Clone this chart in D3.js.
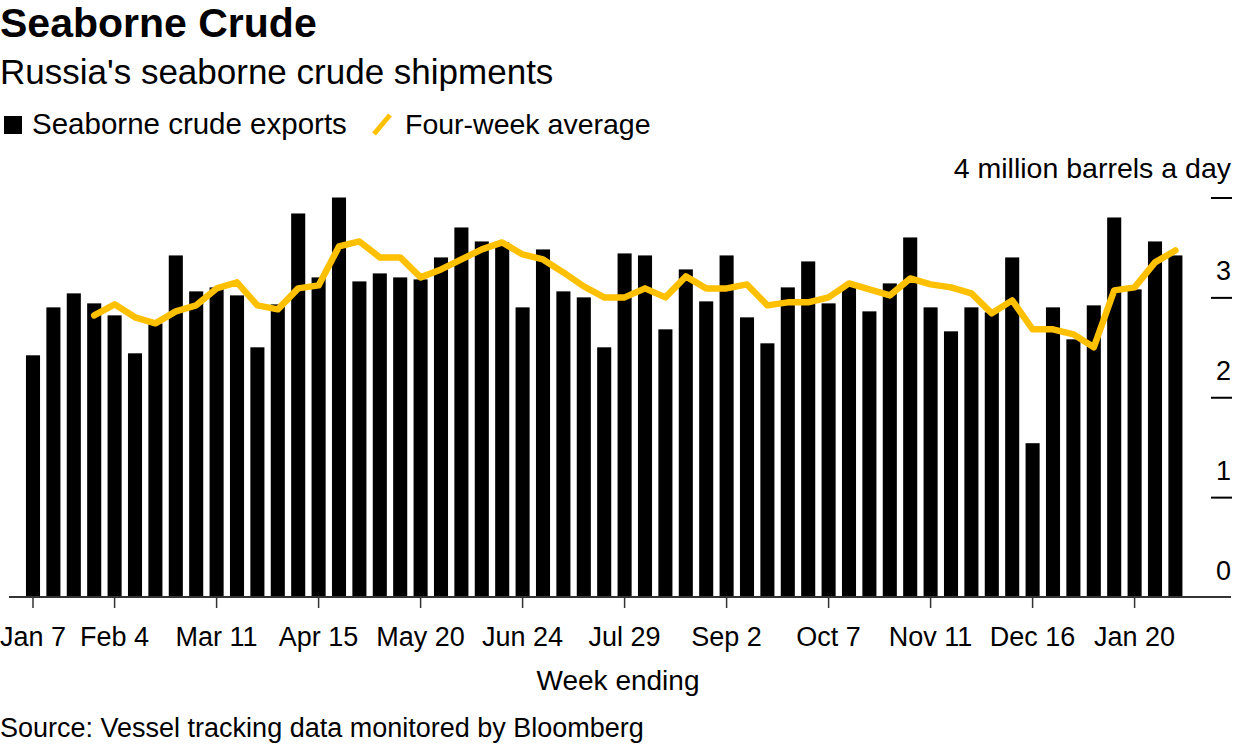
<!DOCTYPE html>
<html>
<head>
<meta charset="utf-8">
<script src="https://cdn.jsdelivr.net/npm/d3@7"></script>
<style>
  body { margin: 0; background: #fff; }
  text { font-family: "Liberation Sans", Arial, sans-serif; fill: #000; }
</style>
</head>
<body>
<div id="chart"></div>
<script>
// weekly Russian seaborne crude exports, million barrels a day
var weeks = d3.range(57).map(function(i){ return new Date(Date.UTC(2018, 0, 7 + 7 * i)); });

var exportsMbd = [2.42, 2.90, 3.04, 2.94, 2.82, 2.44, 2.74, 3.42, 3.06, 3.10,
                  3.02, 2.50, 2.93, 3.84, 3.20, 4.00, 3.16, 3.24, 3.20, 3.18,
                  3.40, 3.70, 3.56, 3.55, 2.90, 3.48, 3.06, 3.00, 2.50, 3.44,
                  3.42, 2.68, 3.28, 2.96, 3.42, 2.80, 2.54, 3.10, 3.36, 2.94,
                  3.12, 2.86, 3.14, 3.60, 2.90, 2.66, 2.90, 2.85, 3.40, 1.54,
                  2.90, 2.58, 2.92, 3.80, 3.08, 3.56, 3.42];

// four-week average, starts on the 4th week
var avgMbd = [null, null, null, 2.82, 2.93, 2.80, 2.74, 2.86, 2.92, 3.09,
              3.15, 2.92, 2.88, 3.09, 3.12, 3.51, 3.56, 3.40, 3.40, 3.20,
              3.28, 3.38, 3.48, 3.55, 3.43, 3.38, 3.25, 3.11, 3.00, 3.00,
              3.09, 3.00, 3.21, 3.09, 3.09, 3.13, 2.92, 2.95, 2.95, 3.00,
              3.14, 3.08, 3.02, 3.19, 3.13, 3.10, 3.04, 2.84, 2.97, 2.68,
              2.68, 2.63, 2.50, 3.07, 3.10, 3.35, 3.47];

var xTickLabels = ["Jan 7", "Feb 4", "Mar 11", "Apr 15", "May 20", "Jun 24",
                   "Jul 29", "Sep 2", "Oct 7", "Nov 11", "Dec 16", "Jan 20"];
var xTickIdx = [0, 4, 9, 14, 19, 24, 29, 34, 39, 44, 49, 54];
var yTicks = [0, 1, 2, 3, 4];

var W = 1257, H = 755;
var yellow = "#ffc000";

var svg = d3.select("#chart").append("svg")
    .attr("width", W)
    .attr("height", H);

// titles
svg.append("text").attr("x", 0).attr("y", 37)
    .style("font-size", "41px").style("font-weight", "bold")
    .text("Seaborne Crude");
svg.append("text").attr("x", 0).attr("y", 84)
    .style("font-size", "35px")
    .text("Russia's seaborne crude shipments");

// legend
var legend = svg.append("g").attr("transform", "translate(0,134)");
legend.append("rect").attr("x", 4).attr("y", -18).attr("width", 18).attr("height", 18).attr("fill", "#000");
legend.append("text").attr("x", 32).attr("y", 0).style("font-size", "29.5px").text("Seaborne crude exports");
legend.append("line").attr("x1", 374).attr("y1", 0).attr("x2", 390).attr("y2", -19)
    .attr("stroke", yellow).attr("stroke-width", 5);
legend.append("text").attr("x", 405).attr("y", 0).style("font-size", "28.5px").text("Four-week average");

// scales
var x = d3.scaleBand()
    .domain(weeks)
    .range([22.8, 22.8 + 57 * 20.4])
    .paddingInner(0.31)
    .paddingOuter(0.155);

var y = d3.scaleLinear().domain([0, 4]).range([597, 197.5]);

var cx = function(i){ return x(weeks[i]) + x.bandwidth() / 2; };

// bars
svg.append("g").selectAll("rect")
    .data(exportsMbd)
    .enter().append("rect")
    .attr("x", function(d, i){ return x(weeks[i]); })
    .attr("width", x.bandwidth())
    .attr("y", function(d){ return y(d); })
    .attr("height", function(d){ return y(0) - y(d); })
    .attr("fill", "#000");

// y axis on the right, labels sit above the tick marks
var yAxis = svg.append("g")
    .attr("transform", "translate(1211,0)")
    .call(d3.axisRight(y).tickValues(yTicks).tickSize(21).tickFormat(function(d){
        return d === 4 ? "4 million barrels a day" : d;
    }));
yAxis.select(".domain").remove();
yAxis.selectAll(".tick line").attr("stroke", "#000").attr("stroke-width", 2)
    .attr("opacity", function(d){ return d === 0 ? 0 : 1; });
yAxis.selectAll(".tick text")
    .attr("x", 20).attr("dy", 0)
    .attr("y", function(d){ return d === 4 ? -20 : -18; })
    .attr("text-anchor", "end")
    .style("font-family", "Liberation Sans, Arial, sans-serif")
    .style("font-size", function(d){ return d === 4 ? "28.5px" : "27px"; })
    .attr("fill", "#000");

// x axis
svg.append("line")
    .attr("x1", 9).attr("x2", 1231)
    .attr("y1", y(0)).attr("y2", y(0))
    .attr("stroke", "#333").attr("stroke-width", 2);

var xAxis = svg.append("g")
    .attr("transform", "translate(0," + y(0) + ")")
    .call(d3.axisBottom(x)
        .tickValues(xTickIdx.map(function(i){ return weeks[i]; }))
        .tickSize(11)
        .tickFormat(function(d, i){ return xTickLabels[i]; }));
xAxis.select(".domain").remove();
xAxis.selectAll(".tick line").attr("stroke", "#333").attr("stroke-width", 1.5);
xAxis.selectAll(".tick text")
    .attr("y", 49).attr("dy", 0)
    .style("font-family", "Liberation Sans, Arial, sans-serif")
    .style("font-size", "27px")
    .attr("fill", "#000");

svg.append("text").attr("x", 618).attr("y", 690)
    .attr("text-anchor", "middle").style("font-size", "28px")
    .text("Week ending");

// four-week average line
var line = d3.line()
    .defined(function(d){ return d !== null; })
    .x(function(d, i){ return cx(i); })
    .y(function(d){ return y(d); });

svg.append("path")
    .datum(avgMbd)
    .attr("d", line)
    .attr("fill", "none")
    .attr("stroke", yellow)
    .attr("stroke-width", 6.5)
    .attr("stroke-linejoin", "round")
    .attr("stroke-linecap", "round");

svg.append("text").attr("x", 0).attr("y", 737)
    .style("font-size", "27px")
    .text("Source: Vessel tracking data monitored by Bloomberg");
</script>
</body>
</html>
